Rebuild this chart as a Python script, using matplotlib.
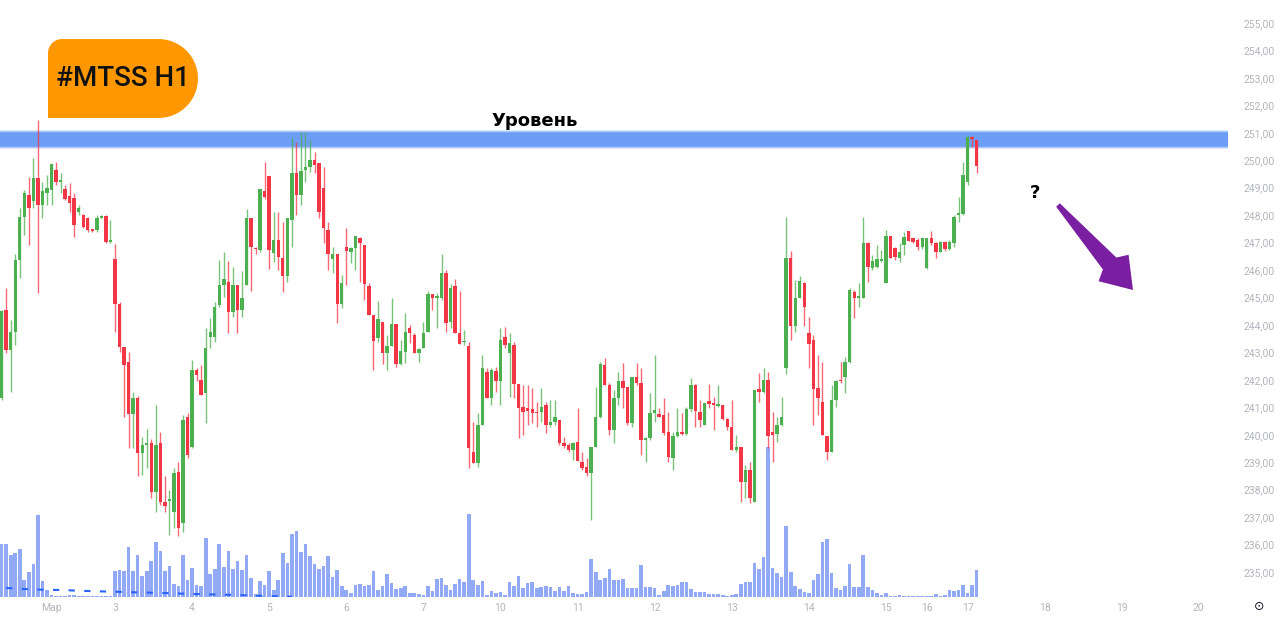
import numpy as np
import matplotlib
matplotlib.use("Agg")
import matplotlib.pyplot as plt
from matplotlib.patches import Polygon

# ---- data (hourly candles, index 0 = first bar of Mar 3) ----
first_idx = -25

opens = [
    241.33, 244.55, 243.09, 243.76, 246.37, 247.95, 248.74, 248.5, 249.34, 248.37, 248.82,
    248.92, 249.65, 249.22, 248.95, 248.71, 248.62, 248.1, 248.0, 247.88, 247.48, 247.46, 247.91, 247.97, 247.03,
    246.4, 244.75, 243.19, 242.66, 240.76, 241.33, 239.33, 239.63, 239.69, 237.93, 239.69, 237.56, 237.6, 237.2, 238.65, 236.78, 240.65,
    239.57, 242.36, 241.99, 241.51, 243.57, 243.57, 244.73, 245.46, 245.55, 244.46, 245.46, 244.55, 245.46, 247.91, 246.82, 246.73, 248.88,
    249.43, 246.61, 247.1, 246.45, 245.78, 247.83, 249.52, 248.73, 249.65, 249.77, 250.0, 249.9, 248.98, 247.46, 246.4, 246.57, 244.75,
    246.83, 246.65, 246.79, 247.15, 246.91, 245.42, 244.36, 243.52, 244.09, 242.97, 243.25, 244.03, 242.57, 243.03, 243.88, 243.64, 242.97,
    243.15, 243.76, 245.12, 244.97, 245.0, 245.88, 244.09, 245.42, 243.7, 243.37, 243.24, 239.36, 238.96, 240.36, 242.3, 241.35, 242.33,
    241.96, 243.57, 242.97, 243.27, 241.84, 241.02, 240.96, 240.93, 240.84, 240.84, 241.08, 240.36, 240.48, 240.54, 239.69, 239.63, 239.44,
    239.75, 239.02, 238.84, 238.6, 239.57, 240.66, 242.54, 241.81, 240.18, 241.33, 241.94, 241.75, 240.42, 242.12, 241.87, 239.81, 239.87,
    240.78, 240.75, 240.72, 240.09, 239.14, 239.96, 240.09, 240.02, 240.93, 241.81, 240.84, 240.36, 241.24, 241.15, 241.06, 241.1, 240.57,
    240.3, 239.45, 239.54, 238.27, 238.72, 237.56, 241.66, 241.57, 242.0, 240.09, 240.02, 240.36, 242.44, 246.45, 243.97, 245.0, 245.52,
    243.7, 243.45, 241.72, 241.18, 239.96, 239.36, 241.27, 241.99, 242.12, 242.66, 245.21, 245.0, 244.97, 246.97, 246.06, 246.12, 246.33,
    245.52, 247.24, 246.82, 246.43, 246.91, 247.42, 247.15, 247.1, 246.85,
    246.06, 247.15, 246.97, 246.67, 247.03, 246.76, 246.97, 248.0, 248.06,
    249.22, 250.86, 250.74,
]
highs = [
    244.55, 245.33, 244.18, 246.6, 248.25, 248.92, 249.4, 250.07, 251.47, 249.22, 249.46,
    249.9, 249.95, 249.52, 249.1, 249.16, 248.8, 248.37, 248.04, 247.95, 247.5, 248.0, 248.0, 248.0, 247.83,
    246.94, 244.85, 243.2, 243.03, 241.57, 241.4, 239.93, 240.2, 239.85, 241.08, 240.1, 238.5, 238.0, 238.8, 239.0, 240.72, 240.78,
    242.72, 242.42, 242.54, 243.88, 244.24, 244.85, 246.37, 246.67, 246.33, 246.12, 245.46, 245.98, 248.21, 247.91, 246.85, 248.97, 249.95,
    249.43, 248.1, 248.1, 247.76, 247.91, 250.8, 250.68, 251.04, 251.04, 250.74, 250.31, 249.9, 249.77, 247.76, 246.85, 246.57, 245.82,
    247.52, 246.85, 247.24, 247.21, 246.91, 245.52, 244.36, 244.88, 244.09, 243.64, 244.97, 244.03, 243.45, 244.42, 244.0, 243.7, 243.15,
    244.12, 245.24, 245.12, 245.15, 246.6, 246.0, 245.48, 245.67, 245.24, 243.82, 243.39, 240.48, 240.78, 242.9, 242.42, 242.42, 242.48,
    243.88, 243.94, 243.7, 243.39, 241.84, 241.81, 241.81, 241.69, 241.21, 241.69, 241.21, 241.27, 241.27, 240.54, 239.93, 239.69, 239.75,
    240.96, 239.38, 239.14, 239.57, 241.75, 242.66, 242.78, 241.87, 241.63, 242.3, 242.6, 241.75, 242.12, 242.6, 242.42, 239.93, 241.51,
    242.9, 240.96, 241.33, 240.84, 240.11, 240.96, 240.78, 241.02, 242.06, 241.84, 241.27, 241.15, 241.84, 241.36, 241.81, 241.1, 240.6,
    241.27, 239.99, 239.54, 238.9, 239.02, 241.63, 242.24, 242.42, 242.3, 240.84, 240.66, 241.39, 247.95, 246.7, 245.64, 245.8, 245.58,
    244.3, 243.64, 242.91, 242.66, 239.96, 241.81, 242.0, 242.66, 242.85, 245.33, 245.27, 245.52, 247.95, 247.03, 246.55, 246.91, 246.73,
    247.46, 247.24, 246.85, 246.97, 247.4, 247.42, 247.18, 247.15, 247.21,
    247.15, 247.42, 247.03, 247.06, 247.06, 247.1, 248.0, 248.67, 249.95,
    250.9, 250.9, 250.74,
]
lows = [
    241.27, 242.97, 241.57, 243.27, 245.7, 247.28, 246.9, 248.25, 245.15, 247.88, 248.37,
    248.37, 249.1, 248.8, 248.55, 248.13, 247.22, 248.0, 247.52, 247.4, 247.4, 247.4, 247.88, 247.0, 246.97,
    243.75, 243.0, 240.65, 239.5, 239.5, 238.5, 238.55, 238.78, 237.7, 237.2, 237.44, 237.2, 236.35, 236.6, 236.3, 236.45, 239.14,
    239.5, 241.94, 241.45, 240.42, 243.15, 243.39, 244.67, 245.03, 243.7, 244.3, 243.7, 244.3, 245.46, 245.24, 246.6, 246.67, 248.6,
    246.04, 246.3, 246.0, 245.21, 245.58, 246.85, 248.0, 248.37, 249.22, 249.58, 249.52, 247.9, 246.97, 246.0, 245.88, 244.06, 244.6,
    245.46, 246.25, 246.0, 245.58, 244.91, 244.36, 242.36, 243.39, 242.57, 242.36, 243.25, 242.48, 242.54, 242.6, 243.33, 242.97, 242.64,
    243.15, 243.76, 244.55, 243.88, 244.91, 243.76, 243.88, 243.7, 243.3, 243.27, 238.8, 238.96, 238.84, 240.36, 241.33, 241.08, 241.57,
    241.08, 243.15, 241.39, 241.33, 239.87, 240.0, 240.36, 240.42, 240.3, 240.48, 240.05, 240.3, 240.36, 239.63, 239.5, 239.38, 239.08,
    239.05, 238.72, 238.48, 236.9, 239.57, 240.6, 241.81, 240.0, 239.69, 241.08, 240.96, 240.36, 240.3, 241.81, 239.26, 239.02, 239.81,
    240.48, 240.66, 239.99, 239.02, 238.72, 239.93, 239.99, 239.99, 240.84, 240.3, 240.3, 240.36, 240.96, 240.18, 241.02, 240.54, 240.18,
    239.45, 239.38, 237.56, 237.68, 237.5, 237.56, 241.21, 241.51, 239.5, 239.02, 239.75, 240.33, 242.2, 243.45, 243.76, 244.97, 243.97,
    242.42, 240.36, 240.72, 239.99, 239.08, 239.36, 241.02, 241.87, 241.51, 242.6, 244.24, 244.67, 244.97, 245.55, 246.0, 246.06, 246.3,
    245.52, 246.43, 246.37, 246.3, 246.55, 247.06, 247.0, 246.73, 246.76,
    246.04, 246.91, 246.45, 246.64, 246.7, 246.73, 246.85, 247.76, 248.0,
    249.1, 250.5, 249.52,
]
closes = [
    244.49, 243.09, 243.76, 246.37, 247.95, 248.8, 248.27, 249.34, 248.37, 248.88, 249.0,
    249.85, 249.22, 249.27, 248.58, 248.43, 247.64, 248.27, 247.58, 247.46, 247.44, 247.91, 247.95, 247.03, 247.05,
    244.75, 243.19, 242.54, 240.76, 241.33, 239.33, 239.63, 239.69, 237.93, 239.63, 237.56, 237.42, 237.65, 238.6, 236.6, 240.53, 239.25,
    242.36, 242.18, 241.45, 243.15, 243.76, 244.67, 245.46, 245.66, 244.46, 245.46, 244.55, 244.97, 247.91, 246.85, 246.75, 248.95, 248.67,
    246.73, 247.1, 246.49, 245.78, 247.91, 249.52, 248.73, 249.61, 249.77, 250.0, 249.82, 248.13, 247.52, 246.57, 246.57, 244.75, 245.52,
    246.7, 246.79, 247.24, 246.97, 245.48, 244.36, 243.43, 244.21, 242.97, 243.25, 244.03, 242.57, 243.06, 243.76, 243.7, 242.97, 243.12,
    243.7, 245.12, 244.97, 245.06, 245.88, 244.06, 245.33, 243.7, 243.3, 243.42, 239.5, 238.96, 240.36, 242.44, 241.35, 242.36, 241.96,
    243.45, 243.27, 243.36, 241.84, 240.96, 240.82, 240.88, 240.78, 240.78, 241.02, 240.36, 240.48, 240.63, 239.69, 239.6, 239.44, 239.69,
    239.05, 238.78, 238.6, 239.57, 240.66, 242.57, 241.81, 240.18, 241.33, 241.94, 241.72, 240.42, 242.12, 241.87, 239.81, 239.87, 240.78,
    240.9, 240.66, 240.05, 239.2, 239.96, 240.09, 240.02, 240.93, 241.81, 240.87, 240.54, 241.15, 241.12, 241.09, 241.1, 240.57, 240.3,
    239.45, 239.54, 238.27, 238.72, 237.71, 241.63, 241.57, 242.0, 239.96, 240.0, 240.36, 240.66, 246.45, 243.97, 244.97, 245.6, 244.67,
    243.3, 241.66, 241.33, 240.0, 239.36, 241.27, 241.96, 241.96, 242.66, 245.27, 244.97, 245.06, 246.97, 246.12, 246.33, 246.4, 246.4,
    247.24, 246.45, 246.49, 246.67, 247.21, 247.06, 247.03, 246.85, 247.15,
    247.15, 246.97, 246.67, 247.03, 246.76, 247.03, 247.94, 248.09, 249.46,
    250.86, 250.77, 249.8,
]
# volume, in pixel-height units
volumes = [
    53, 53, 42, 44, 48, 17, 25, 33, 82, 16, 7,
    1.7, 0.7, 1, 1.3, 1.7, 2, 1.3, 1, 1, 1, 1, 1.3, 1.3, 1.3,
    26, 27, 26, 50, 26, 42, 21, 26, 36, 55, 46, 26, 31, 13, 11, 42, 17,
    29, 12, 11, 59, 23, 28, 53, 30, 46, 28, 36, 27, 42, 19, 3, 16, 12,
    26, 7, 17, 44, 34, 63, 66, 45, 53, 41, 33, 28, 31, 41, 20, 27, 11,
    7, 4, 12, 13, 11, 12, 26, 7, 11, 23, 14, 8, 9, 11, 4, 4, 3,
    2, 11, 6, 18, 19, 12, 7, 13, 18, 15, 83, 17, 12, 16, 2, 6, 4,
    5, 2, 15, 11, 21, 9, 14, 15, 9, 10, 11, 10, 6, 10, 6, 11, 4,
    3, 3, 5, 38, 25, 17, 19, 28, 17, 17, 18, 9, 9, 9, 32, 10, 10,
    9, 2, 6, 12, 11, 12, 15, 15, 8, 5, 5, 5, 3, 3, 3, 2, 1,
    2, 3, 13, 15, 15, 34, 28, 40, 150, 29, 24, 20, 71, 25, 11, 8, 5,
    4, 17, 23, 55, 58, 24, 9, 7, 11, 33, 10, 10, 42, 10, 7, 4, 2,
    4, 1, 1, 2, 1, 1, 1, 1, 1,
    1, 1, 3, 1, 2, 7, 6, 7, 12,
    4, 12, 27,
]
# dashed volume average line (left part only)
avg_idx = [-24, -20, -16, -12, -8, -4, 0, 4, 8, 12, 16, 20, 24, 28, 32, 36, 39]
avg_val = [9, 8, 7.3, 7, 6.3, 5.7, 5.3, 4.7, 4.3, 3.8, 3.2, 2.7, 2.3, 1.8, 1.2, 0.7, 0.3]

# trading sessions: day label and number of hourly bars
day_labels = ['28', 'Мар', '2', '3', '4', '5', '6', '7', '10', '11', '12', '13', '14',
              '15', '16', '17', '18', '19', '20']
day_bars = [11, 7, 7, 17, 17, 17, 17, 17, 17, 17, 17, 17, 17, 9, 9, 17, 17, 17, 17]
hidden_labels = ['28', '2']

level_low, level_high = 250.48, 251.05
price_ticks = list(range(235, 256))

assert len(opens) == len(highs) == len(lows) == len(closes) == len(volumes)

GREEN = '#4caf50'
RED = '#f23645'
VOL = '#92aaf6'
LABEL = '#b2b5be'

o = np.array(opens)
h = np.array(highs)
l = np.array(lows)
c = np.array(closes)
x = first_idx + np.arange(len(o))
up = c >= o
cols = np.where(up, GREEN, RED)

W, H = 1280, 618
fig = plt.figure(figsize=(W / 100, H / 100), dpi=100)
fig.patch.set_facecolor('white')

ax_rect = [0, 1 - 597 / H, 1228 / W, 597 / H]
px = 4.535  # pixels per bar
xlim = (-115 / px, (1228 - 115) / px)

# volume pane (behind)
vax = fig.add_axes(ax_rect, zorder=0)
vax.bar(x, volumes, width=0.8, color=VOL, linewidth=0)
vax.plot(avg_idx, avg_val, color='#2962ff', lw=1.5, ls=(0, (3, 4.5)))
vax.set_xlim(*xlim)
vax.set_ylim(0, 597)
vax.axis('off')

# price pane
ax = fig.add_axes(ax_rect, zorder=1)
ax.patch.set_alpha(0)
ax.set_xlim(*xlim)
ax.set_ylim(255 - 574 / 27.45, 255 + 23 / 27.45)

ax.axhspan(level_low, level_high, color='#6c9ef6', zorder=1)
ax.axhline(level_high, color='#b4cbf7', lw=1, zorder=1)
ax.axhline(level_low, color='#b4cbf7', lw=1, zorder=1)

ax.vlines(x, l, h, colors=cols, lw=1, alpha=0.75, zorder=2)
body_low = np.minimum(o, c)
body_h = np.maximum(np.abs(c - o), 0.05)
ax.bar(x, body_h, bottom=body_low, width=0.75, color=cols, linewidth=0, zorder=3)

for s in ax.spines.values():
    s.set_visible(False)

ax.yaxis.tick_right()
ax.set_yticks(price_ticks)
ax.set_yticklabels([f'{v},00' for v in price_ticks], family='Roboto')
ax.tick_params(axis='y', length=0, pad=11, labelsize=7.5, labelcolor=LABEL)

starts = first_idx + np.concatenate([[0], np.cumsum(day_bars)[:-1]])
shown = [(s, lab) for s, lab in zip(starts, day_labels) if lab not in hidden_labels]
ax.set_xticks([s for s, _ in shown])
ax.set_xticklabels([lab for _, lab in shown], family='Roboto')
ax.tick_params(axis='x', length=0, pad=4, labelsize=7.5, labelcolor=LABEL)

ax.text((535 - 115) / px, 251.43, 'Уровень', ha='center', va='center',
        fontsize=13, fontweight='bold', color='black', zorder=5)
ax.text((1035 - 115) / px, 255 - (193 - 23) / 27.45, '?', ha='center', va='center',
        fontsize=13, fontweight='bold', color='black', zorder=5)


def fig_xy(px_x, px_y):
    return px_x / W, 1 - px_y / H


# orange tag
left, top, right, bottom = 48, 39, 198, 118
r = (bottom - top) / 2
rc = 14
pts = [(left, bottom), (left, top + rc)]
for a in np.linspace(np.pi, 1.5 * np.pi, 10):
    pts.append((left + rc + rc * np.cos(a), top + rc + rc * np.sin(a)))
for a in np.linspace(-0.5 * np.pi, 0.5 * np.pi, 30):
    pts.append((right - r + r * np.cos(a), top + r + r * np.sin(a)))
pts.append((left, bottom))
tag = Polygon([fig_xy(*p) for p in pts], closed=True, transform=fig.transFigure,
              facecolor='#ff9800', edgecolor='none', zorder=10)
fig.patches.append(tag)
fig.text(*fig_xy(123, 79), '#MTSS H1', ha='center', va='center', fontsize=20,
         family='Roboto', fontweight='medium', color='#111111', zorder=11)

# purple arrow
tail = np.array([1058.0, 205.0])
tip = np.array([1133.0, 290.0])
d = tip - tail
length = np.hypot(*d)
u = d / length
n = np.array([-u[1], u[0]])
local = [(0, 2.5), (78, 9), (84, 20), (length, 0), (84, -20), (78, -9), (0, -2.5)]
arrow_pts = [fig_xy(*(tail + s * u + w * n)) for s, w in local]
fig.patches.append(Polygon(arrow_pts, closed=True, transform=fig.transFigure,
                           facecolor='#7b1fa2', edgecolor='none', zorder=10))

fig.text(*fig_xy(1259, 607), '⊙', ha='center', va='center', fontsize=9, color='#131722')

fig.savefig('out.png', dpi=100)
